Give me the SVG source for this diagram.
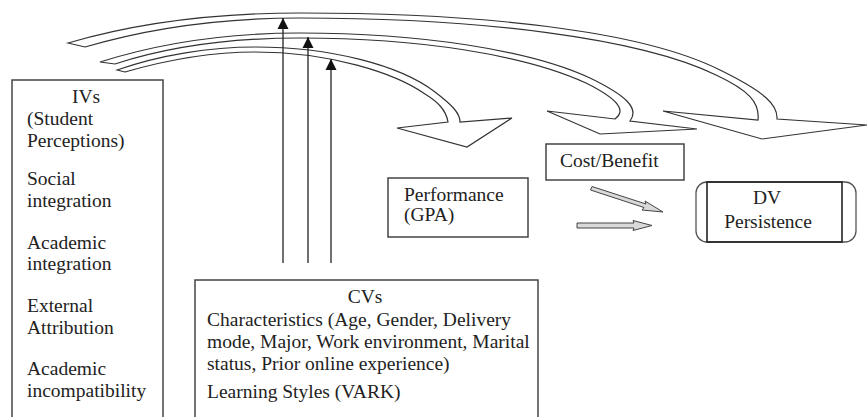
<svg xmlns="http://www.w3.org/2000/svg" width="867" height="417" viewBox="0 0 867 417">
<defs>
<style>
.box{fill:#fff;stroke:#444;stroke-width:1.5}
.band{fill:#fff;stroke:#333;stroke-width:1.2;stroke-linejoin:miter}
.small{fill:#d9d9d9;stroke:#444;stroke-width:1}
.vline{stroke:#222;stroke-width:1.3;fill:none}
text{font-family:"Liberation Serif","Times New Roman",serif;font-size:19.5px;fill:#222}
.c{text-anchor:middle}
</style>
<marker id="ah" markerUnits="userSpaceOnUse" markerWidth="14" markerHeight="14" viewBox="0 0 14 14" refX="12" refY="7" orient="auto">
<path d="M1,1.5 L12,7 L1,12.5 Z" fill="#111"/>
</marker>
</defs>
<rect width="867" height="417" fill="#fff"/>

<g id="connectors">
<path class="band" d="M68,43 C150,19 230,13 300,13 C480,13 640,30 720,70 C765,92 778,105 777,119 L867,125 L762,139 L663,111 L758,120 C760,102 748,90 716,75 C640,38 480,18 300,18 C235,18 160,25 85,47 Z"/>
<path class="band" d="M100,62 C160,43 230,33 300,33 C420,33 530,50 590,78 C625,95 640,108 630,121 L697,129 L600,134 L547,111 L615,119 C626,111 620,100 586,83 C525,55 420,38 300,38 C235,38 170,46 115,64 Z"/>
<path class="band" d="M117,70 C160,55 210,47 255,47 C330,47 400,65 435,92 C452,105 460,113 460,122 L512,118 L467,147 L397,128 L448,122 C446,110 438,102 425,94 C395,73 330,52 255,52 C215,52 170,59 125,72 Z"/>
<line class="vline" x1="283" y1="263" x2="283" y2="18" marker-end="url(#ah)"/>
<line class="vline" x1="308" y1="263" x2="308" y2="37" marker-end="url(#ah)"/>
<line class="vline" x1="331" y1="263" x2="331" y2="59" marker-end="url(#ah)"/>
<path class="small" d="M592,186.5 L646,204 L645,201 L663,212 L642,210 L644,207.5 L590.5,190 Z"/>
<path class="small" d="M577,223 L634,223 L633,220.5 L652,225.5 L633,230.5 L634,228 L577,228 Z"/>
</g>

<g id="ivs">
<rect class="box" x="12" y="80" width="151" height="345"/>
<text class="c" x="86" y="103">IVs</text>
<text x="27" y="125">(Student</text>
<text x="27" y="147">Perceptions)</text>
<text x="27" y="185">Social</text>
<text x="27" y="207">integration</text>
<text x="27" y="249">Academic</text>
<text x="27" y="270">integration</text>
<text x="27" y="312">External</text>
<text x="27" y="334">Attribution</text>
<text x="27" y="375">Academic</text>
<text x="27" y="397">incompatibility</text>
</g>

<g id="cvs">
<rect class="box" x="195" y="280" width="343" height="145"/>
<text class="c" x="365" y="303">CVs</text>
<text x="207" y="326">Characteristics (Age, Gender, Delivery</text>
<text x="207" y="348">mode, Major, Work environment, Marital</text>
<text x="207" y="370">status, Prior online experience)</text>
<text x="207" y="398">Learning Styles (VARK)</text>
</g>

<g id="performance">
<rect class="box" x="388" y="178" width="140" height="59"/>
<text x="404" y="201">Performance</text>
<text x="404" y="221">(GPA)</text>
</g>

<g id="costbenefit">
<rect class="box" x="546" y="144" width="138" height="36"/>
<text x="560" y="167">Cost/Benefit</text>
</g>

<g id="dv">
<rect x="696" y="182" width="160" height="60" rx="11" ry="11" fill="#fff" stroke="#555" stroke-width="1.3"/>
<rect x="707" y="182" width="135" height="60" fill="none" stroke="#222" stroke-width="1.6"/>
<text class="c" x="767" y="204">DV</text>
<text class="c" x="768" y="228">Persistence</text>
</g>
</svg>
